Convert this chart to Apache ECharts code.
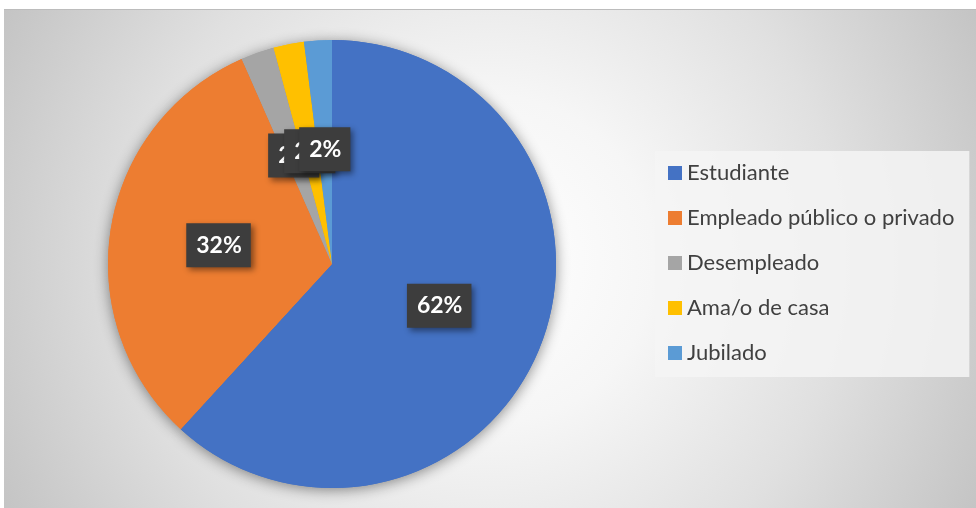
<!DOCTYPE html>
<html>
<head>
<meta charset="utf-8">
<script src="https://cdn.jsdelivr.net/npm/echarts@6/dist/echarts.min.js"></script>
<style>
  html, body { margin: 0; padding: 0; background: #ffffff; }
  #frame {
    position: absolute; left: 4px; top: 9px; width: 972px; height: 499px;
    border-top: 1px solid #bcbcbc;
    background: radial-gradient(circle farthest-corner at 50% 50%, #ffffff 0%, #f6f6f6 30%, #e0e0e0 65%, #c4c4c4 100%);
  }
  #chart { width: 972px; height: 499px; }
</style>
</head>
<body>
<div id="frame"><div id="chart"></div></div>
<script>
const categories = ["Estudiante", "Empleado público o privado", "Desempleado", "Ama/o de casa", "Jubilado"];
const values = [61.8, 31.6, 2.4, 2.2, 2.0];
const colors = ["#4472C4", "#ED7D31", "#A5A5A5", "#FFC000", "#5B9BD5"];

const pieData = categories.map((name, i) => ({ name: name, value: values[i] }));

const chart = echarts.init(document.getElementById("chart"));

const option = {
  color: colors,
  textStyle: { fontFamily: "Lato" },
  legend: {
    orient: "vertical",
    left: 651,
    top: 141,
    padding: [11, 15, 13, 13],
    backgroundColor: "rgba(244,244,244,0.85)",
    icon: "rect",
    itemWidth: 14,
    itemHeight: 14,
    itemGap: 23,
    data: categories,
    textStyle: { color: "#404040", fontSize: 22, lineHeight: 21, fontFamily: "Lato" },
  },
  series: [
    {
      // sombra del pastel
      type: "pie",
      silent: true,
      center: [328, 254],
      radius: 224,
      data: pieData,
      label: { show: false },
      labelLine: { show: false },
      itemStyle: {
        shadowBlur: 14,
        shadowColor: "rgba(0,0,0,0.45)",
        shadowOffsetX: 0,
        shadowOffsetY: 2,
      },
    },
    {
      type: "pie",
      center: [328, 254],
      radius: 224,
      data: pieData,
      labelLine: { show: false },
      labelLayout: { hideOverlap: false },
      label: {
        show: true,
        position: "inside",
        formatter: (p) => Math.round(p.percent) + "%",
        color: "#ffffff",
        fontSize: 23,
        fontWeight: "bold",
        fontFamily: "Lato",
        lineHeight: 26,
        backgroundColor: "#3d3d3d",
        padding: [9, 9, 9, 10],
        shadowBlur: 6,
        shadowOffsetX: 3,
        shadowOffsetY: 3,
        shadowColor: "rgba(0,0,0,0.45)",
      },
      emphasis: { scale: false },
    },
  ],
};

chart.setOption(option);
window.addEventListener("resize", () => {
  chart.resize();
});
</script>
</body>
</html>
